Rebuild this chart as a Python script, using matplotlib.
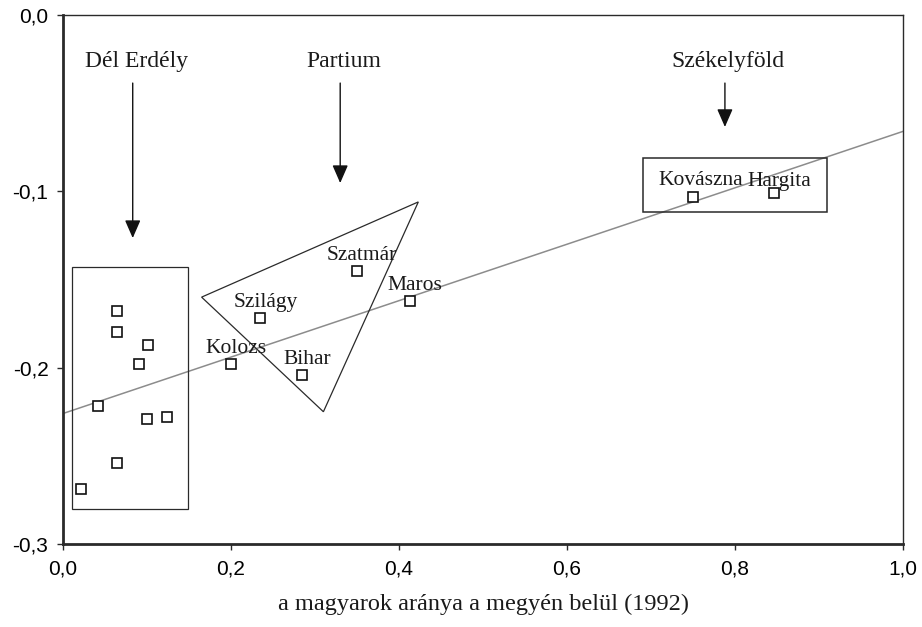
import matplotlib
matplotlib.use("Agg")
import matplotlib.pyplot as plt
from matplotlib.patches import Polygon, Rectangle
from matplotlib.ticker import FuncFormatter
import numpy as np

# =================================================
# --------------------- DATA ----------------------
# =================================================

# labelled counties
counties = ["Kolozs", "Szilágy", "Bihar", "Szatmár", "Maros", "Kovászna", "Hargita"]
county_x = [0.200, 0.235, 0.285, 0.350, 0.413, 0.750, 0.846]
county_y = [-0.198, -0.172, -0.204, -0.145, -0.162, -0.103, -0.101]

# unlabelled Dél Erdély counties
south_x = [0.064, 0.064, 0.101, 0.090, 0.042, 0.100, 0.124, 0.064, 0.021]
south_y = [-0.168, -0.180, -0.187, -0.198, -0.222, -0.229, -0.228, -0.254, -0.269]

# trend line
trend_intercept = -0.226
trend_slope = 0.160

# group outlines
del_box = (0.011, -0.280, 0.138, 0.137)  # x, y, width, height
partium_tri = [(0.165, -0.160), (0.423, -0.106), (0.310, -0.225)]
szekely_box = (0.690, -0.112, 0.219, 0.031)

# group labels with arrows
groups = ["Dél Erdély", "Partium", "Székelyföld"]
group_x = [0.083, 0.330, 0.788]
group_text_y = -0.0295
group_arrow_from = -0.0386
group_arrow_to = [-0.1265, -0.0953, -0.0635]

x_ticks = [0.0, 0.2, 0.4, 0.6, 0.8, 1.0]
y_ticks = [0.0, -0.1, -0.2, -0.3]

# =================================================
# --------------------- PLOT ----------------------
# =================================================

SERIF = "Liberation Serif"
SANS = "Liberation Sans"
DARK = "#2a2a2a"


def comma(v, pos):
    s = f"{v:.1f}".replace(".", ",")
    if s == "-0,0":
        s = "0,0"
    return s


fig = plt.figure(figsize=(9.22, 6.27), dpi=100)
ax = fig.add_axes([63 / 922, 1 - 544 / 627, 840 / 922, 529 / 627])

ax.set_xlim(0, 1)
ax.set_ylim(-0.3, 0)

# trend line
xs = np.array([0.0, 1.0])
ax.plot(xs, trend_intercept + trend_slope * xs, color="#8c8c8c", lw=1.1, zorder=2)

# outlines
bx, by, bw, bh = del_box
ax.add_patch(Rectangle((bx, by), bw, bh, fill=False, ec=DARK, lw=0.9, zorder=3))
ax.add_patch(Polygon(partium_tri, closed=True, fill=False, ec=DARK, lw=0.9, zorder=3))
sx, sy, sw, sh = szekely_box
ax.add_patch(Rectangle((sx, sy), sw, sh, fill=False, ec=DARK, lw=1.1, zorder=3))

# points
mk = dict(marker="s", ms=6.5, mfc="white", mec="#111111", mew=1.2, ls="none", zorder=4)
ax.plot(south_x, south_y, **mk)
ax.plot(county_x, county_y, **mk)

label_offsets = {"Kovászna": (8, 12), "Hargita": (6, 7)}
for name, x, y in zip(counties, county_x, county_y):
    off = label_offsets.get(name, (5, 11))
    ax.annotate(name, (x, y), xytext=off, textcoords="offset pixels",
                ha="center", va="baseline", fontsize=15.5, family=SERIF,
                color="#1a1a1a", zorder=5)

# group labels and arrows
for name, x, tip in zip(groups, group_x, group_arrow_to):
    ax.text(x + 0.004, group_text_y, name, ha="center", va="baseline",
            fontsize=17, family=SERIF, color="#1a1a1a")
    ax.annotate("", xy=(x, tip), xytext=(x, group_arrow_from),
                arrowprops=dict(arrowstyle="-|>,head_length=0.55,head_width=0.24",
                                mutation_scale=20, color="#111111", lw=1.0,
                                shrinkA=0, shrinkB=0))

# axes styling
ax.set_xticks(x_ticks)
ax.set_yticks(y_ticks)
ax.xaxis.set_major_formatter(FuncFormatter(comma))
ax.yaxis.set_major_formatter(FuncFormatter(comma))
ax.tick_params(direction="out", length=4.5, width=1, color=DARK, labelsize=15, pad=7)
ax.tick_params(axis="y", pad=6)
for lab in ax.get_xticklabels() + ax.get_yticklabels():
    lab.set_family(SANS)

ax.spines["left"].set_linewidth(2.0)
ax.spines["bottom"].set_linewidth(2.0)
ax.spines["top"].set_linewidth(1.0)
ax.spines["right"].set_linewidth(1.0)
for sp in ax.spines.values():
    sp.set_color(DARK)

ax.set_xlabel("a magyarok aránya a megyén belül (1992)", family=SERIF,
              fontsize=17.5, labelpad=11, color="#1a1a1a")

fig.savefig("out.png", dpi=100)
